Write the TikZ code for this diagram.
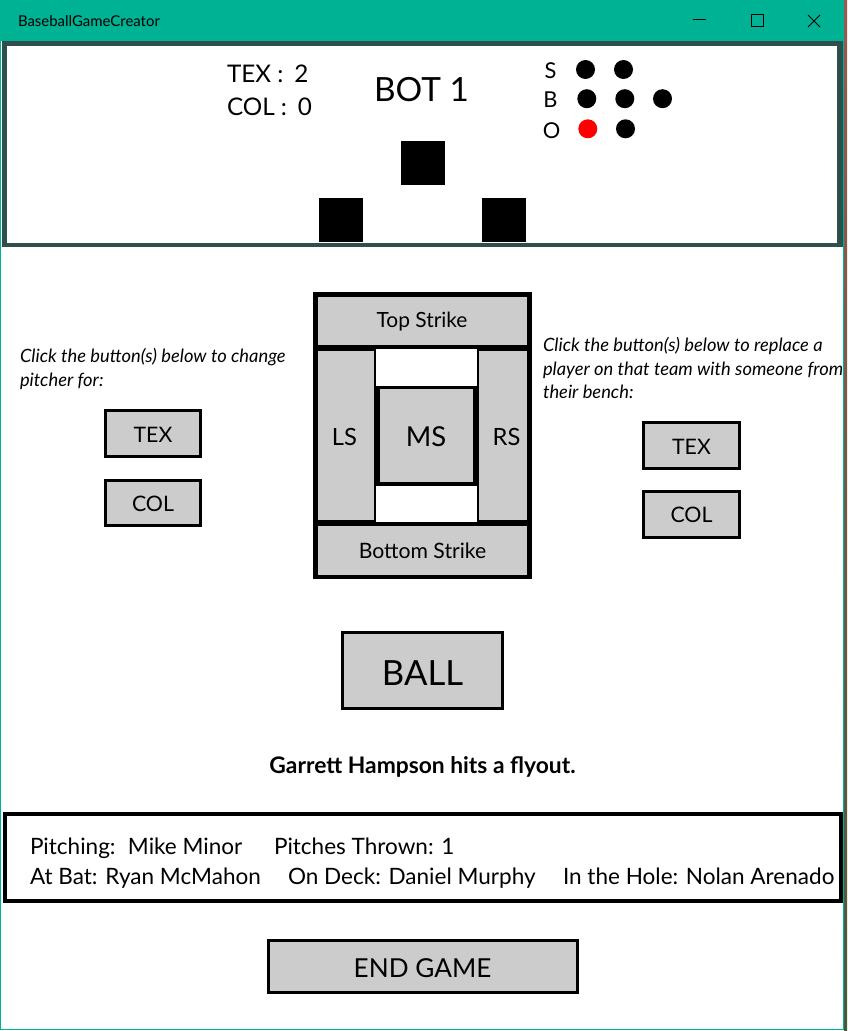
\documentclass[tikz,border=0pt]{standalone}
\usepackage{fontspec}
\setmainfont{Lato}
\definecolor{titleteal}{RGB}{0,178,148}
\definecolor{slate}{RGB}{47,79,79}
\definecolor{btngray}{RGB}{204,204,204}
\definecolor{photoA}{RGB}{150,90,80}
\definecolor{photoB}{RGB}{70,90,60}
\tikzset{
  btn/.style={fill=btngray, draw=black, line width=2.25pt},
  txt/.style={inner sep=0pt, outer sep=0pt, anchor=base},
  txtw/.style={inner sep=0pt, outer sep=0pt, anchor=base west},
  dot/.style={fill=black},
}
\newcommand{\fsz}[1]{\fontsize{#1pt}{#1pt}\selectfont}
\begin{document}
\begin{tikzpicture}[x=0.75pt,y=-0.75pt]
\useasboundingbox (0,0) rectangle (847,1031);
% window background
\fill[white] (0,0) rectangle (847,1031);
\shade[top color=photoA, bottom color=photoB] (844,0) rectangle (847,1031);
% title bar
\fill[titleteal] (0,0) rectangle (844,41);
\node[txtw] (title) at (18,26.7) {\fsz{11.2}BaseballGameCreator};
\draw[black, line width=0.75pt] (693,20) -- (706,20);
\draw[black, line width=0.75pt] (751,15) rectangle (763,27);
\draw[black, line width=0.75pt] (808,15) -- (820,27) (808,27) -- (820,15);
\draw[titleteal, line width=0.75pt] (0.5,41) -- (0.5,1029.5) -- (843.5,1029.5) -- (843.5,41);
% top panel
\fill[slate] (2,41) rectangle (843,247);
\fill[white] (7,46) rectangle (837,243);
\node[txtw] (tex) at (227,82.3) {\fsz{18.2}TEX :\hspace{0.45em}2};
\node[txtw] (col) at (227,115.7) {\fsz{18.2}COL :\hspace{0.45em}0};
\node[txt] (inning) at (421.5,101.7) {\fsz{25}BOT 1};
\node[txt] (s) at (550.5,79) {\fsz{16.4}S};
\node[txt] (b) at (550.5,107.7) {\fsz{16.4}B};
\node[txt] (o) at (551.5,138) {\fsz{16.4}O};
\fill[dot] (585.5,69.5) circle (9.5);
\fill[dot] (623.5,69.5) circle (9.5);
\fill[dot] (586.8,98.7) circle (9.5);
\fill[dot] (624.8,98.7) circle (9.5);
\fill[dot] (662.5,98.7) circle (9.5);
\fill[red] (587.8,128.8) circle (9.5);
\fill[dot] (625.5,128.8) circle (9.5);
% bases
\fill[black] (401,141) rectangle (445,185);
\fill[black] (319,198) rectangle (363,242);
\fill[black] (482,198) rectangle (526,242);
% left instructions
\node[txtw] (lt1) at (20,362) {\fsz{13.75}\itshape Click the button(s) below to change};
\node[txtw] (lt2) at (20,386) {\fsz{13.75}\itshape pitcher for:};
\draw[btn] (105.5,410.5) rectangle (200.5,456.5);
\node[txt] (ptex) at (153,442.3) {\fsz{16}TEX};
\draw[btn] (105.5,480.5) rectangle (200.5,525.5);
\node[txt] (pcol) at (153,511) {\fsz{16}COL};
% right instructions
\node[txtw] (rt1) at (543,351) {\fsz{13.75}\itshape Click the button(s) below to replace a};
\node[txtw] (rt2) at (543,375) {\fsz{13.75}\itshape player on that team with someone from};
\node[txtw] (rt3) at (543,398) {\fsz{13.75}\itshape their bench:};
\draw[btn] (643.5,422.5) rectangle (739.5,468.5);
\node[txt] (btex) at (691.5,454) {\fsz{16}TEX};
\draw[btn] (643.5,491.5) rectangle (739.5,537.5);
\node[txt] (bcol) at (691.5,522.3) {\fsz{16}COL};
% strike zone
\fill[black] (313,292) rectangle (532,579);
\fill[btngray] (318,297) rectangle (527,345);
\fill[btngray] (318,351) rectangle (374,520);
\fill[btngray] (479,351) rectangle (527,520);
\fill[btngray] (318,526) rectangle (527,575);
\fill[white] (376,349) rectangle (477,386);
\fill[white] (376,486) rectangle (477,522);
\fill[btngray] (380,389) rectangle (473,482);
\node[txt] (top) at (422,327.7) {\fsz{15.7}Top Strike};
\node[txt] (bot) at (422.5,558) {\fsz{15.9}Bottom Strike};
\node[txt] (ls) at (344.5,445.7) {\fsz{17.8}LS};
\node[txt] (rs) at (506.5,445.7) {\fsz{17.8}RS};
\node[txt] (ms) at (426,446.7) {\fsz{20.6}MS};
% ball
\draw[btn] (342.5,632.5) rectangle (502.5,708.5);
\node[txt] (ball) at (422.5,685.3) {\fsz{26}BALL};
\node[txt] (result) at (422.5,773.3) {\fsz{17.1}\bfseries Garrett Hampson hits a flyout.};
% info box
\draw[black, line width=3pt] (5,814) rectangle (841,901);
\node[txtw] (pitching) at (30,854) {\fsz{16.9}Pitching:\hspace{0.55em}Mike Minor};
\node[txtw] (thrown) at (274,854) {\fsz{16.9}Pitches Thrown: 1};
\node[txtw] (atbat) at (30,884) {\fsz{16.9}At Bat: Ryan McMahon};
\node[txtw] (deck) at (288,884) {\fsz{16.9}On Deck: Daniel Murphy};
\node[txtw] (hole) at (563,884) {\fsz{16.9}In the Hole: Nolan Arenado};
% end game
\draw[btn] (268,940.5) rectangle (577.5,992.5);
\node[txt] (end) at (422.5,977.7) {\fsz{19.6}END GAME};
\end{tikzpicture}
\end{document}
